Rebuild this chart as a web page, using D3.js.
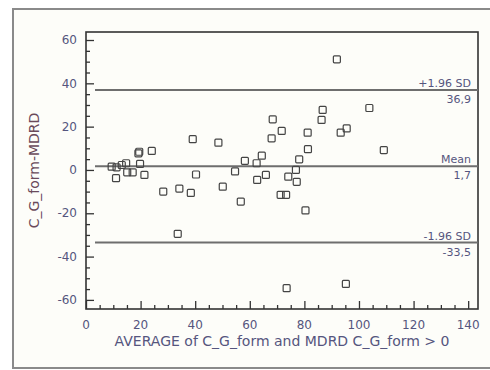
<!DOCTYPE html>
<html>
<head>
<meta charset="utf-8">
<script src="https://cdn.jsdelivr.net/npm/d3@7"></script>
<style>
  body { margin: 0; background: #fff; }
  svg { display: block; }
  text { font-family: 'DejaVu Sans', sans-serif; fill: #55557e; }
</style>
</head>
<body>
<svg id="chart" width="490" height="370"></svg>
<script>
// averages (x) and differences (y)
var avgValues = [9.4, 11.2, 11.0, 13.1, 14.7, 15.1, 17.1, 19.2, 19.5, 19.8,
  21.4, 24.1, 28.3, 33.6, 34.2, 38.4, 39.1, 40.3, 48.5, 50.1,
  54.6, 56.7, 58.2, 62.5, 62.7, 64.4, 65.9, 68.0, 68.4, 71.3,
  73.3, 71.7, 73.5, 74.1, 76.9, 77.2, 78.1, 80.4, 81.2, 81.3,
  86.3, 86.7, 91.9, 93.3, 95.5, 95.2, 103.8, 109.1];
var diffValues = [1.5, 1.2, -3.8, 2.3, 3.1, -1.1, -1.1, 7.7, 8.4, 2.8,
  -2.3, 8.8, -10.0, -29.5, -8.6, -10.6, 14.2, -2.1, 12.6, -7.7,
  -0.7, -14.6, 4.2, 3.1, -4.6, 6.6, -2.3, 14.6, 23.4, -11.5,
  -11.5, 18.0, -54.6, -3.1, 0, -5.5, 4.9, -18.7, 17.2, 9.6,
  23.1, 27.7, 51.1, 17.2, 19.2, -52.6, 28.6, 9.2];

// reference lines: +1.96 SD, mean, -1.96 SD
var refNames = ['+1.96 SD', 'Mean', '-1.96 SD'];
var refValues = [36.9, 1.7, -33.5];
var refLabels = ['36,9', '1,7', '-33,5'];
var refLineFrom = 3.3;

var xTicks = [0, 20, 40, 60, 80, 100, 120, 140];
var yTicks = [-60, -40, -20, 0, 20, 40, 60];

var svg = d3.select('#chart');

// outer frame
svg.append('rect')
  .attr('x', 13).attr('y', 9)
  .attr('width', 490).attr('height', 359)
  .attr('fill', '#fdfdf9')
  .attr('stroke', '#8a8a8a')
  .attr('stroke-width', 2);

var pLeft = 86, pTop = 32, pRight = 478, pBottom = 309;

var x = d3.scaleLinear().domain([0, 143.6]).range([pLeft, pRight]);
var y = d3.scaleLinear().domain([-64.2, 63.7]).range([pBottom, pTop]);

var g = svg.append('g');

// minor ticks every 5 units
var xMinor = d3.range(5, 141, 5).filter(function(v) { return v % 20 !== 0; });
var yMinor = d3.range(-60, 61, 5).filter(function(v) { return v % 20 !== 0; });

g.append('g')
  .attr('transform', 'translate(0,' + pBottom + ')')
  .call(d3.axisTop(x).tickValues(xMinor).tickSize(4).tickFormat(''))
  .call(function(a) { a.select('.domain').remove(); });
g.append('g')
  .attr('transform', 'translate(' + pLeft + ',0)')
  .call(d3.axisRight(y).tickValues(yMinor).tickSize(4).tickFormat(''))
  .call(function(a) { a.select('.domain').remove(); });

// major ticks, drawn inward
g.append('g')
  .attr('transform', 'translate(0,' + pBottom + ')')
  .call(d3.axisTop(x).tickValues(xTicks).tickSize(8).tickFormat(''))
  .call(function(a) { a.select('.domain').remove(); });
g.append('g')
  .attr('transform', 'translate(' + pLeft + ',0)')
  .call(d3.axisRight(y).tickValues(yTicks).tickSize(8).tickFormat(''))
  .call(function(a) { a.select('.domain').remove(); });

g.selectAll('.tick line')
  .attr('stroke', '#333')
  .attr('stroke-width', 1.3);

// tick labels
g.selectAll('text.xlab')
  .data(xTicks)
  .enter().append('text')
  .attr('class', 'xlab')
  .attr('x', function(d) { return x(d); })
  .attr('y', pBottom + 20)
  .attr('text-anchor', 'middle')
  .attr('font-size', 12)
  .text(function(d) { return d; });

g.selectAll('text.ylab')
  .data(yTicks)
  .enter().append('text')
  .attr('class', 'ylab')
  .attr('x', pLeft - 9)
  .attr('y', function(d) { return y(d); })
  .attr('dy', '.35em')
  .attr('text-anchor', 'end')
  .attr('font-size', 12)
  .text(function(d) { return d; });

// plot box
g.append('rect')
  .attr('x', pLeft).attr('y', pTop)
  .attr('width', pRight - pLeft).attr('height', pBottom - pTop)
  .attr('fill', 'none')
  .attr('stroke', '#333')
  .attr('stroke-width', 1.6);

// reference lines
g.selectAll('line.ref')
  .data(refValues)
  .enter().append('line')
  .attr('class', 'ref')
  .attr('x1', x(refLineFrom))
  .attr('x2', pRight)
  .attr('y1', function(d) { return y(d); })
  .attr('y2', function(d) { return y(d); })
  .attr('stroke', '#6e6e6e')
  .attr('stroke-width', 2);

g.selectAll('text.refname')
  .data(refValues)
  .enter().append('text')
  .attr('class', 'refname')
  .attr('x', pRight - 7)
  .attr('y', function(d) { return y(d) - 3; })
  .attr('text-anchor', 'end')
  .attr('font-size', 11)
  .text(function(d, i) { return refNames[i]; });

g.selectAll('text.refval')
  .data(refValues)
  .enter().append('text')
  .attr('class', 'refval')
  .attr('x', pRight - 7)
  .attr('y', function(d) { return y(d) + 13; })
  .attr('text-anchor', 'end')
  .attr('font-size', 11)
  .text(function(d, i) { return refLabels[i]; });

// points as open squares
g.selectAll('rect.pt')
  .data(avgValues)
  .enter().append('rect')
  .attr('class', 'pt')
  .attr('x', function(d) { return x(d) - 3.5; })
  .attr('y', function(d, i) { return y(diffValues[i]) - 3.5; })
  .attr('width', 7)
  .attr('height', 7)
  .attr('rx', 1)
  .attr('fill', 'none')
  .attr('stroke', '#444')
  .attr('stroke-width', 1.2);

// axis titles
svg.append('text')
  .attr('x', (pLeft + pRight) / 2)
  .attr('y', 346)
  .attr('text-anchor', 'middle')
  .attr('font-size', 14)
  .text('AVERAGE of C_G_form and MDRD C_G_form > 0');

svg.append('text')
  .attr('transform', 'translate(39,' + ((pTop + pBottom) / 2) + ') rotate(-90)')
  .attr('text-anchor', 'middle')
  .attr('font-size', 14)
  .style('fill', '#6a4a5a')
  .text('C_G_form-MDRD');
</script>
</body>
</html>
